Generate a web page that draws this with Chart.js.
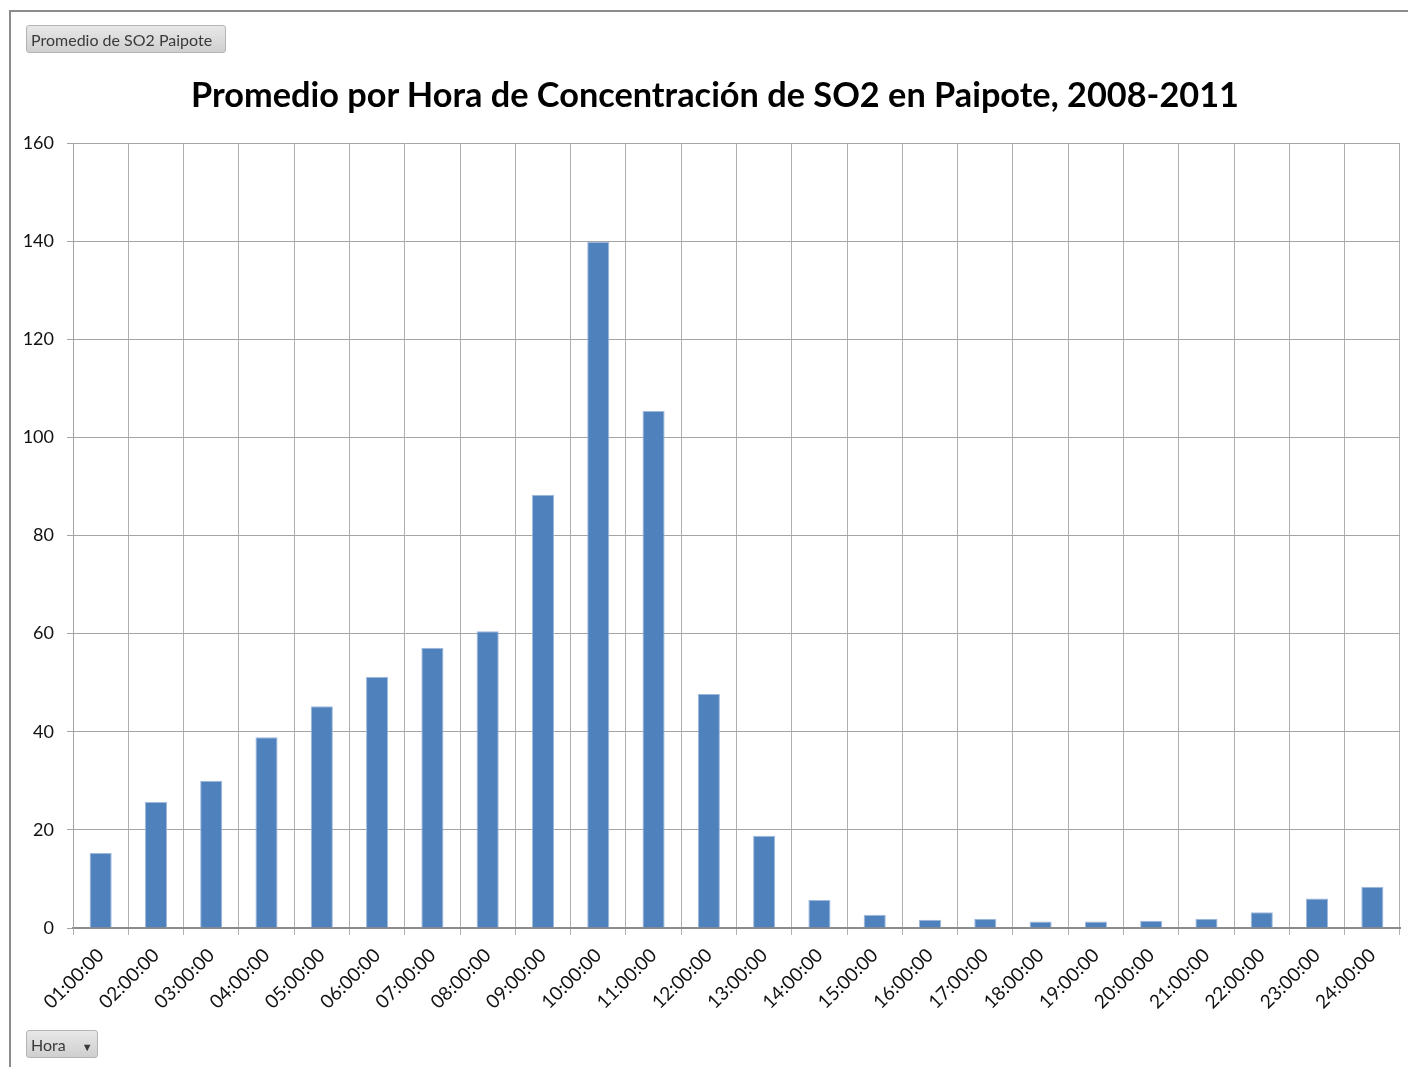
<!DOCTYPE html>
<html>
<head>
<meta charset="utf-8">
<script src="https://cdn.jsdelivr.net/npm/chart.js@4"></script>
<style>
  html, body { margin: 0; padding: 0; background: #fff; }
  #wrap { position: relative; width: 1408px; height: 1067px; overflow: hidden; }
  #frame { position: absolute; left: 9px; top: 10px; width: 1420px; height: 1080px;
           border-left: 2px solid #8c8c8c; border-top: 2px solid #8c8c8c; }
  canvas { position: absolute; left: 0; top: 0; }
  #title { position: absolute; left: 0; top: 72px; width: 1430px; text-align: center;
           font-family: Lato, "Open Sans", sans-serif; font-weight: bold; font-size: 34.3px;
           line-height: 44px; color: #000; }
  .btn { position: absolute; height: 28px; line-height: 28px; padding: 0 4px;
         font-family: Lato, "Open Sans", sans-serif; font-size: 16px; color: #3a3a3a;
         border: 1px solid #b4b4b4; border-radius: 3px;
         background: linear-gradient(#e8e8e8, #cfcfcf); box-sizing: border-box; }
</style>
</head>
<body>
<div id="wrap">
  <div id="frame"></div>
  <canvas id="chart" width="1408" height="1067"></canvas>
  <div id="title"></div>
  <div class="btn" style="left:26px; top:25px; width:200px;">Promedio de SO2 Paipote</div>
  <div class="btn" style="left:26px; top:1030px; width:72px;">Hora <span style="font-size:11px; margin-left:12px;">&#9660;</span></div>
</div>
<script>
// 📊 Data
const horas = ['01:00:00', '02:00:00', '03:00:00', '04:00:00', '05:00:00', '06:00:00',
  '07:00:00', '08:00:00', '09:00:00', '10:00:00', '11:00:00', '12:00:00',
  '13:00:00', '14:00:00', '15:00:00', '16:00:00', '17:00:00', '18:00:00',
  '19:00:00', '20:00:00', '21:00:00', '22:00:00', '23:00:00', '24:00:00'];
const promedioSO2 = [15.3, 25.7, 30.0, 38.9, 45.2, 51.2, 57.1, 60.5, 88.3, 139.8, 105.4, 47.7,
  18.8, 5.7, 2.7, 1.7, 1.9, 1.3, 1.3, 1.5, 1.9, 3.2, 6.0, 8.4];
const yTicks = { min: 0, max: 160, step: 20 };

const chartTitle = 'Promedio por Hora de Concentración de SO2 en Paipote, 2008-2011';
const FONT = 'Lato, "Open Sans", sans-serif';

document.getElementById('title').textContent = chartTitle;

const ctx = document.getElementById('chart');
window.so2Chart = new Chart(ctx, {
  type: 'bar',
  data: {
    labels: horas,
    datasets: [{
      label: 'Promedio de SO2 Paipote',
      data: promedioSO2,
      backgroundColor: '#4f81bd',
      borderColor: '#9fb9dc',
      borderWidth: 1,
      categoryPercentage: 1,
      barPercentage: 0.4
    }]
  },
  options: {
    responsive: false,
    animation: false,
    layout: { padding: { left: 0, right: 8, top: 143, bottom: 0 } },
    plugins: {
      legend: { display: false },
      tooltip: { enabled: false },
      title: { display: false }
    },
    scales: {
      x: {
        grid: { color: '#b0b0b0', lineWidth: 1, tickLength: 7, offset: true },
        border: { color: '#8c8c8c', width: 2 },
        ticks: {
          color: '#111',
          font: { family: FONT, size: 19 },
          minRotation: 45, maxRotation: 45,
          autoSkip: false,
          padding: 9
        },
        afterFit: (scale) => { scale.height = 139; }
      },
      y: {
        min: yTicks.min,
        max: yTicks.max,
        grid: { color: '#a4a4a4', lineWidth: 1, tickLength: 6 },
        border: { color: '#a4a4a4', width: 1 },
        ticks: {
          stepSize: yTicks.step,
          color: '#111',
          font: { family: FONT, size: 18 },
          padding: 13
        },
        afterFit: (scale) => { scale.width = 73; }
      }
    }
  }
});
</script>
</body>
</html>
